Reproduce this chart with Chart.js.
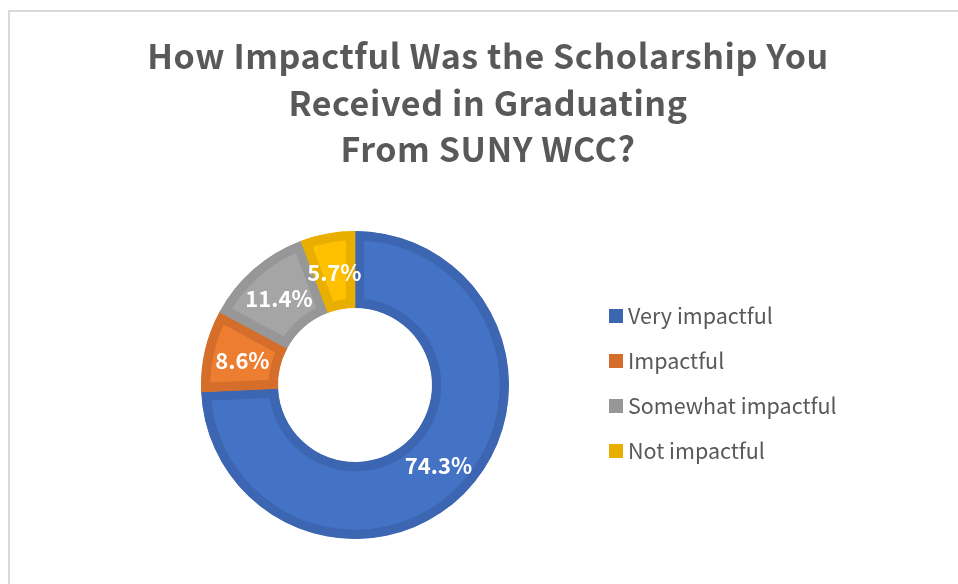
<!DOCTYPE html>
<html lang="en">

<head>
    <meta charset="UTF-8">
    <script src="https://cdn.jsdelivr.net/npm/chart.js@4.4.1/dist/chart.umd.min.js"></script>
    <title>Scholarship Impact</title>
    <style>
        body { margin: 0; background: #fff; overflow: hidden; }
        .frame {
            position: absolute; left: 8px; top: 10px; width: 960px; height: 590px;
            border-top: 2px solid #d9d9d9; border-left: 2px solid #d9d9d9;
        }
        #chartImpact { position: absolute; left: 0; top: 0; }
    </style>
</head>

<body>
    <div class="frame"></div>
    <canvas id="chartImpact" width="958" height="584"></canvas>
</body>

</html>
<script>
    var categorias = ['Very impactful', 'Impactful', 'Somewhat impactful', 'Not impactful'];
    var respostas = [26, 3, 4, 2];
    var percentuais = ['74.3%', '8.6%', '11.4%', '5.7%'];
    var tituloLinhas = ['How Impactful Was the Scholarship You', 'Received in Graduating', 'From SUNY WCC?'];

    var corFundo = ['#4472C4', '#ED7D31', '#A5A5A5', '#FFC000'];
    var corBorda = ['#3C66B2', '#D56E2A', '#979797', '#E8AE00'];
    var fonte = "'Noto Sans CJK JP', 'Noto Sans', sans-serif";

    // rotulos brancos no meio de cada fatia
    var rotulos = {
        id: 'rotulos',
        afterDatasetsDraw: function (chart) {
            var ctx = chart.ctx;
            var meta = chart.getDatasetMeta(0);
            ctx.save();
            ctx.fillStyle = '#ffffff';
            ctx.font = 'bold 22px ' + fonte;
            ctx.textAlign = 'center';
            ctx.textBaseline = 'middle';
            meta.data.forEach(function (arco, i) {
                var p = arco.tooltipPosition();
                ctx.fillText(percentuais[i], p.x, p.y + 1);
            });
            ctx.restore();
        }
    };

    // titulo e legenda desenhados a mao (o donut fica fora do centro)
    var tituloLegenda = {
        id: 'tituloLegenda',
        afterDraw: function (chart) {
            var ctx = chart.ctx;
            ctx.save();
            ctx.fillStyle = '#595959';
            ctx.font = 'bold 34px ' + fonte;
            ctx.letterSpacing = '0.6px';
            ctx.textAlign = 'center';
            ctx.textBaseline = 'alphabetic';
            tituloLinhas.forEach(function (linha, i) {
                ctx.fillText(linha, 488, 69 + i * 46.5);
            });
            ctx.letterSpacing = '0px';

            ctx.font = '21.5px ' + fonte;
            ctx.textAlign = 'left';
            ctx.textBaseline = 'middle';
            categorias.forEach(function (nome, i) {
                var y = 316 + i * 45;
                ctx.fillStyle = corBorda[i];
                ctx.fillRect(609, y - 7, 14, 14);
                ctx.fillStyle = '#595959';
                ctx.fillText(nome, 628, y);
            });
            ctx.restore();
        }
    };

    var configImpact = {
        type: 'doughnut',
        data: {
            labels: categorias,
            datasets: [{
                data: respostas,
                backgroundColor: corFundo,
                borderColor: corBorda,
                borderWidth: 9,
                borderAlign: 'inner',
                hoverOffset: 0
            }]
        },
        options: {
            responsive: false,
            animation: false,
            cutout: '50%',
            layout: {
                padding: { left: 0, right: 248, top: 231, bottom: 45 }
            },
            plugins: {
                tooltip: { enabled: false },
                title: { display: false },
                legend: { display: false }
            }
        },
        plugins: [rotulos, tituloLegenda]
    };

    var ctx = document.getElementById('chartImpact').getContext('2d');
    window.myDoughnut = new Chart(ctx, configImpact);
</script>
